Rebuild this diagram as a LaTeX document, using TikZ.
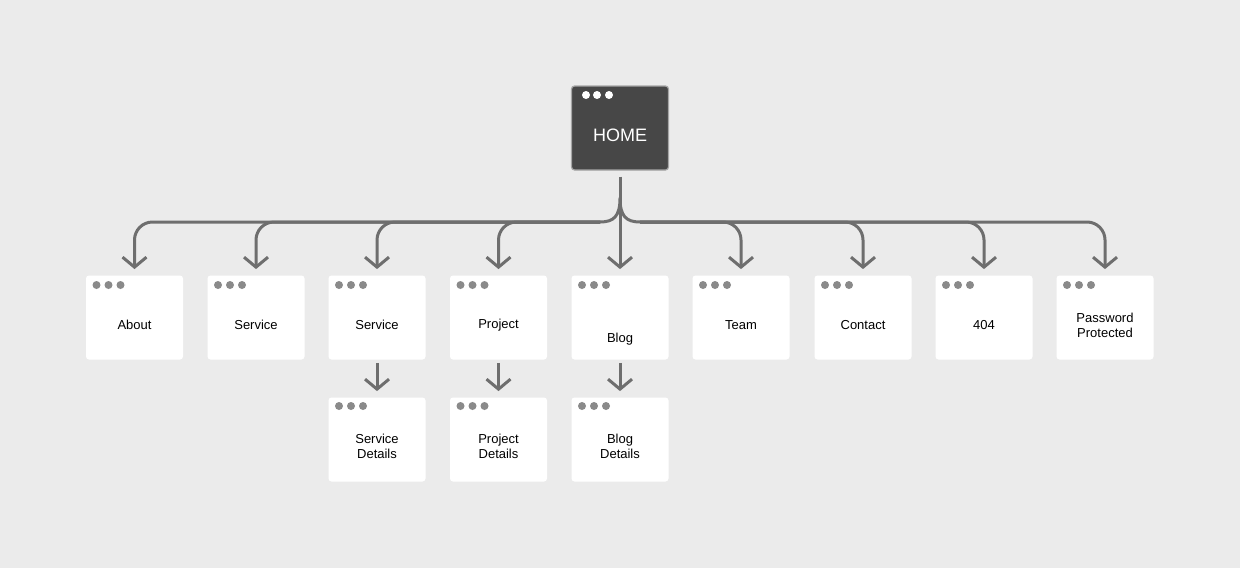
\documentclass[tikz,border=0pt]{standalone}
\usepackage{fontspec}
\setmainfont{Liberation Sans}
\usetikzlibrary{arrows.meta}
\definecolor{bg}{HTML}{EBEBEB}
\definecolor{ln}{HTML}{6E6E6E}
\definecolor{dk}{HTML}{474747}
\definecolor{dt}{HTML}{8A8A8A}
\begin{document}
\begin{tikzpicture}[x=0.5pt,y=-0.5pt,
 page/.style={draw=none,fill=white,rounded corners=1.5pt,minimum width=48.5pt,minimum height=42pt,inner sep=0pt},
 lbl/.style={font=\fontsize{6.5}{7.5}\selectfont,align=center,text=black},
 wire/.style={draw=ln,line width=1.5pt,line join=round},
 conn/.style={wire,-{Straight Barb[length=5pt,width=12pt,line width=1.5pt]}}]
\fill[bg] (0,0) rectangle (1240,568);
\useasboundingbox (0,0) rectangle (1240,568);
% home
\node[page,fill=dk,draw=gray!70,line width=0.6pt] (home) at (620,128) {};
\foreach \dx in {586,597,609} \fill[white] (\dx,95) circle (4);
\node[font=\fontsize{9}{10}\selectfont,text=white] (homel) at (620,135) {HOME};
% row 1
\foreach \n/\x/\t/\ty in {a/134.5/About/325, b/256/Service/325, c/377/Service/325, d/498.5/Project/325, e/620/Blog/339, f/741/Team/325, g/863/Contact/325, h/984/404/325, i/1105/{Password\\Protected}/325}{
 \node[page] (\n) at (\x,317.5) {};
 \foreach \k in {0,1,2} \fill[dt] (\x-38+\k*12,285) circle (4);
 \node[lbl] (\n l) at (\x,\ty) {\t};
}
% row 2
\foreach \n/\x/\t in {c2/377/{Service\\Details}, d2/498.5/{Project\\Details}, e2/620/{Blog\\Details}}{
 \node[page] (\n) at (\x,439.5) {};
 \foreach \k in {0,1,2} \fill[dt] (\x-38+\k*12,406) circle (4);
 \node[lbl] (\n l) at (\x,446) {\t};
}
\coordinate (hub) at (620,222);
\coordinate (fork) at (620,198);
\coordinate (jl) at (600,222);
\coordinate (jr) at (640,222);
% trunk
\draw[conn] ([yshift=-3pt]home.south) -- ([yshift=3pt]e.north);
% junction
\draw[wire] (jl) .. controls (614,222) and (620,216) .. (fork) .. controls (620,216) and (626,222) .. (jr);
% branches
\foreach \n in {a,b,c,d}
 \draw[conn,rounded corners=9pt] (jl) -- (\n.north |- hub) -- ([yshift=3pt]\n.north);
\foreach \n in {f,g,h,i}
 \draw[conn,rounded corners=9pt] (jr) -- (\n.north |- hub) -- ([yshift=3pt]\n.north);
\foreach \u/\v in {c/c2,d/d2,e/e2}
 \draw[conn] ([yshift=-1.5pt]\u.south) -- ([yshift=3pt]\v.north);
\end{tikzpicture}
\end{document}
